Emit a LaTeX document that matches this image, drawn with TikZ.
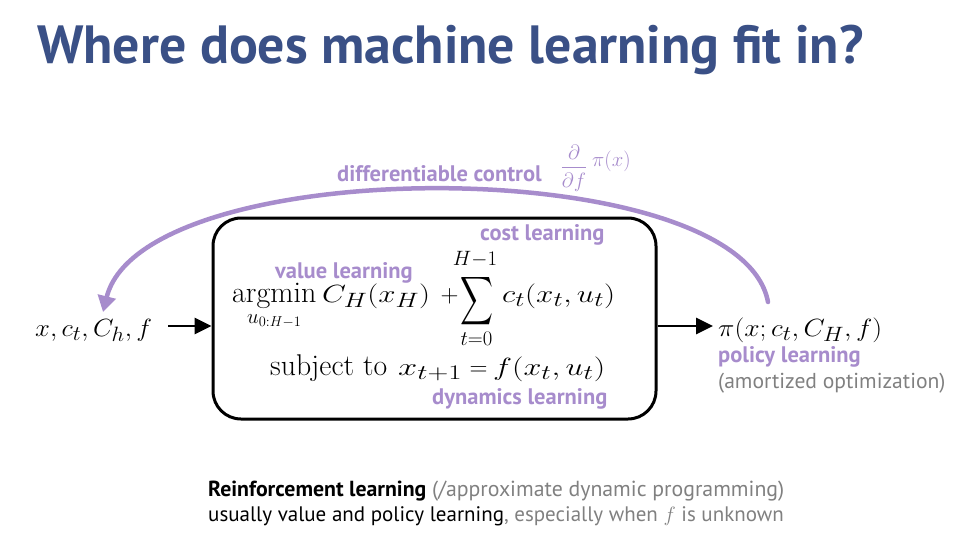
\documentclass[tikz,border=0pt]{standalone}
\usepackage{amsmath}
\usepackage{graphicx}
\usepackage{fontspec}
\usetikzlibrary{arrows.meta}
\newfontfamily\sansf{PT Sans}
\definecolor{titleblue}{RGB}{58,80,134}
\definecolor{lpurple}{RGB}{167,140,204}
\definecolor{tgray}{RGB}{128,128,128}
\newcommand{\fitw}[2]{\resizebox{#1}{\height}{#2}}
\tikzset{
  lbl/.style={inner sep=0pt, anchor=base west},
  plabel/.style={lbl, text=lpurple, font=\sansf\bfseries\fontsize{22.5}{26}\selectfont},
  mathtxt/.style={lbl, font=\fontsize{30}{36}\selectfont},
  limtxt/.style={inner sep=0pt, anchor=base, font=\fontsize{30}{36}\selectfont},
  blackarrow/.style={line width=2.8pt, -{Triangle[length=17pt,width=16pt]}},
  purplearc/.style={draw=lpurple, line width=4.5pt, line cap=round, -{Triangle[length=16pt,width=18pt]}},
  optbox/.style={draw, line width=3pt, rounded corners=28pt, minimum width=443pt, minimum height=201pt, inner sep=0pt}
}
\begin{document}
\begin{tikzpicture}[x=1pt,y=1pt]
\useasboundingbox (0,0) rectangle (979,-538);
% title
\node[lbl, text=titleblue, font=\sansf\bfseries\fontsize{53.8}{60}\selectfont] (title) at (37,-63) {Where does machine learning fit in?};
% box
\node[optbox] (box) at (434.5,-318.5) {};
% objective
\node[mathtxt] (argmin) at (232,-302) {$\displaystyle\operatorname*{argmin}_{u_{0:H-1}}$};
\node[mathtxt] (CH) at (322,-302) {\fitw{108pt}{$C_H(x_H)$}};
\node[mathtxt, anchor=base] (plus) at (449.5,-302) {$+$};
\node[inner sep=0pt] (sum) at (476.5,-301.5) {\resizebox*{33pt}{54pt}{$\displaystyle\sum$}};
\node[limtxt] (sumtop) at (475,-265) {$\scriptstyle H-1$};
\node[limtxt] (sumbot) at (476.5,-345) {$\scriptstyle t=0$};
\node[mathtxt] (ct) at (502,-302) {\fitw{113pt}{$c_t(x_t,u_t)$}};
% constraint
\node[mathtxt] (subj) at (270,-375) {\fitw{117pt}{$\mathrm{subject\ to}$}};
\node[mathtxt] (xnext) at (398,-375) {\fitw{64pt}{$x_{t+1}$}};
\node[mathtxt, anchor=base] (eq) at (478.5,-375) {$=$};
\node[mathtxt] (fdyn) at (493,-375) {\fitw{112pt}{$f(x_t,u_t)$}};
% labels
\node[plabel] (value) at (275,-278) {value learning};
\node[plabel] (cost) at (480,-240) {cost learning};
\node[plabel] (dyn) at (432,-404) {dynamics learning};
% input / output
\node[mathtxt] (inp) at (35,-336) {\fitw{117pt}{$x, c_t, C_h, f$}};
\node[mathtxt] (out) at (718,-336) {\fitw{164pt}{$\pi(x; c_t, C_H, f)$}};
\node[plabel] (policy) at (718,-362) {policy learning};
\node[lbl, text=tgray, font=\sansf\fontsize{21.6}{26}\selectfont] (amort) at (718,-388) {(amortized optimization)};
\coordinate (inA) at (168,-326);
\coordinate (outB) at (713,-326);
\draw[blackarrow] (inA) -- (box.west |- inA);
\draw[blackarrow] (box.east |- outB) -- (outB);
% differentiable control arc
\coordinate (arcS) at (768,-302);
\coordinate (arcE) at (103,-312);
\draw[purplearc] (arcS) .. controls (740,-151) and (143,-151) .. (arcE);
\node[plabel] (diff) at (337,-181) {differentiable control};
\node[inner sep=0pt, text=lpurple, font=\fontsize{21}{25}\selectfont] (frac) at (574,-168) {$\dfrac{\partial}{\partial f}$};
\node[lbl, text=lpurple, font=\fontsize{21}{25}\selectfont] (pix) at (592,-166) {$\pi(x)$};
% bottom text
\node[lbl, font=\sansf\fontsize{21.8}{26}\selectfont] (rl1) at (208,-496) {\textbf{Reinforcement learning} \textcolor{tgray}{(/approximate dynamic programming)}};
\node[lbl, font=\sansf\fontsize{21}{26}\selectfont] (rl2) at (208,-521) {usually value and policy learning\textcolor{tgray}{, especially when $f$ is unknown}};
\end{tikzpicture}
\end{document}
